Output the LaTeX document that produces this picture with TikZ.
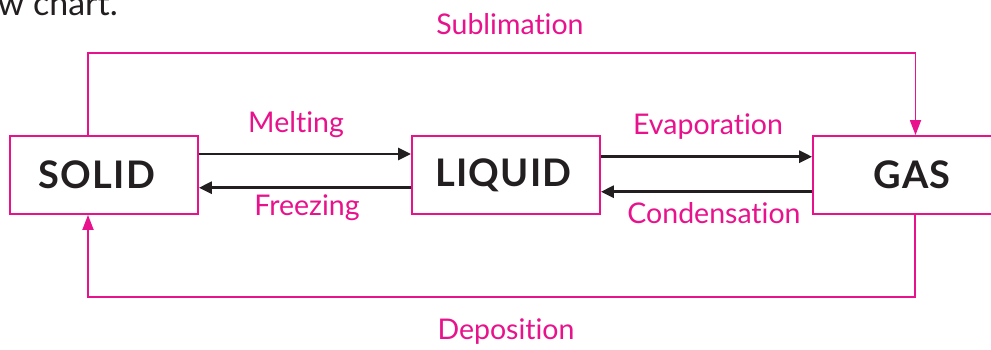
\documentclass[tikz,border=0pt]{standalone}
\usepackage{fontspec}
\setmainfont{Lato}[Ligatures=NoCommon]
\newfontfamily\boxfont{Lato}[Ligatures=NoCommon, LetterSpace=3]
\usetikzlibrary{arrows.meta}
\definecolor{pinkc}{RGB}{232,18,140}
\definecolor{ink}{RGB}{35,31,32}
\tikzset{
  box/.style={draw=pinkc, line width=1.8pt, minimum height=78pt, inner sep=0pt, font=\boxfont\fontsize{38}{40}\selectfont\bfseries, text=ink},
  blk/.style={draw=ink, line width=2.8pt, -{Triangle[length=13pt,width=12pt]}},
  pnk/.style={draw=pinkc, line width=1.8pt, -{Triangle[length=15pt,width=11pt]}},
  lbl/.style={text=pinkc, font=\fontsize{28.5}{30}\selectfont, inner sep=0pt}
}
\begin{document}
\begin{tikzpicture}[x=1pt,y=1pt]
\useasboundingbox (0,0) rectangle (991,349);
\clip (0,0) rectangle (991,349);
\node[anchor=base east, text=ink, font=\fontsize{34}{36}\selectfont, inner sep=0pt] (cap) at (118,333) {w chart.};
\node[box, minimum width=188pt] (solid) at (104,174) {SOLID\hspace*{14pt}};
\node[box, minimum width=188pt] (liquid) at (506,174) {LIQUID\hspace*{5pt}};
\node[box, minimum width=198pt] (gas) at (912,174) {GAS};
\draw[blk] ([yshift=21pt]solid.east) -- ([yshift=21pt]liquid.west);
\draw[blk] ([yshift=-12.7pt]liquid.west) -- ([yshift=-12.7pt]solid.east);
\draw[blk] ([yshift=18.3pt]liquid.east) -- ([yshift=18.3pt]gas.west);
\draw[blk] ([yshift=-16.7pt]gas.west) -- ([yshift=-16.7pt]liquid.east);
\coordinate (st) at ([xshift=-16pt]solid.north);
\coordinate (sb) at ([xshift=-16pt]solid.south);
\coordinate (gt) at ([xshift=3.5pt]gas.north);
\coordinate (gb) at ([xshift=3pt]gas.south);
\draw[pnk] (st) |- (gt |- 0,296) -- (gt);
\draw[pnk] (gb) |- (sb |- 0,52) -- (sb);
\node[lbl] (melt) at (296,224) {Melting};
\node[lbl] (freeze) at (307,141) {Freezing};
\node[lbl] (evap) at (708,222) {Evaporation};
\node[lbl] (cond) at (714,136) {Condensation};
\node[lbl] (subl) at (510,325) {Sublimation};
\node[lbl] (depo) at (506,17) {Deposition};
\end{tikzpicture}
\end{document}
